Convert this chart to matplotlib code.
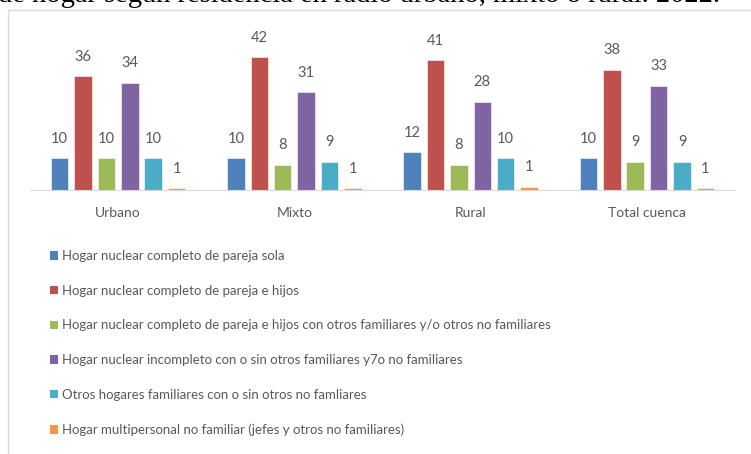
import numpy as np
import matplotlib.pyplot as plt
from matplotlib.patches import Patch, Rectangle

# datos
zonas = ["Urbano", "Mixto", "Rural", "Total cuenca"]
tipos = [
    "Hogar nuclear completo de pareja sola",
    "Hogar nuclear completo de pareja e hijos",
    "Hogar nuclear completo de pareja e hijos con otros familiares y/o otros no familiares",
    "Hogar nuclear incompleto con o sin otros familiares y7o no familiares",
    "Otros hogares familiares con o sin otros no famliares",
    "Hogar multipersonal no familiar (jefes y otros no familiares)",
]
pareja_sola = [10, 10, 12, 10]
pareja_hijos = [36, 42, 41, 38]
pareja_hijos_otros = [10, 8, 8, 9]
incompleto = [34, 31, 28, 33]
otros_familiares = [10, 9, 10, 9]
multipersonal = [0.6, 0.6, 1.0, 0.6]
series = [pareja_sola, pareja_hijos, pareja_hijos_otros, incompleto, otros_familiares, multipersonal]
colores = ["#4F81BD", "#C0504D", "#9BBB59", "#8064A2", "#4BACC6", "#F79646"]

plt.rcParams['font.family'] = ['Lato', 'DejaVu Sans']
gris = "#595959"

fig = plt.figure(figsize=(7.51, 4.54), dpi=100)

# titulo cortado arriba
fig.text(-0.002, 1 - 1.5 / 454, "de hogar según residencia en radio urbano, mixto o rural. 2022.",
         family="Liberation Serif", fontsize=20.5, color="black", va="baseline")

# marco del grafico
fig.patches.append(Rectangle((8 / 751, -0.1), 1.2, 1 - 10 / 454 + 0.1, transform=fig.transFigure,
                             fill=False, edgecolor="#d9d9d9", linewidth=1))

ax = fig.add_axes([30 / 751, 1 - 190 / 454, 705 / 751, 158 / 454])
x = np.arange(len(zonas))
paso = 0.1328
ancho = 0.0993
for i, (vals, col) in enumerate(zip(series, colores)):
    pos = x + (i - 2.5) * paso
    ax.bar(pos, vals, width=ancho, color=col, edgecolor="white", linewidth=0.4)
    for p, v in zip(pos, vals):
        ax.annotate(f"{v:.0f}", (p, v), xytext=(0, 9), textcoords="offset points",
                    ha="center", va="bottom", fontsize=10.5, color=gris, annotation_clip=False)

ax.set_xlim(-0.5, 3.5)
ax.set_ylim(0, 50)
ax.set_yticks([])
ax.set_xticks(x)
ax.set_xticklabels(zonas, fontsize=10, color=gris)
ax.tick_params(axis="x", length=0, pad=12)
for s in ["top", "right", "left"]:
    ax.spines[s].set_visible(False)
ax.spines["bottom"].set_color("#d9d9d9")

handles = [Patch(facecolor=c, edgecolor="none") for c in colores]
fig.legend(handles, tipos, loc="upper left", bbox_to_anchor=(50 / 751, 1 - 250 / 454),
           frameon=False, fontsize=9.5, labelcolor=gris, handlelength=0.6, handleheight=0.6,
           handletextpad=0.3, labelspacing=1.72, borderaxespad=0, borderpad=0)

fig.savefig("out.png", dpi=100)
